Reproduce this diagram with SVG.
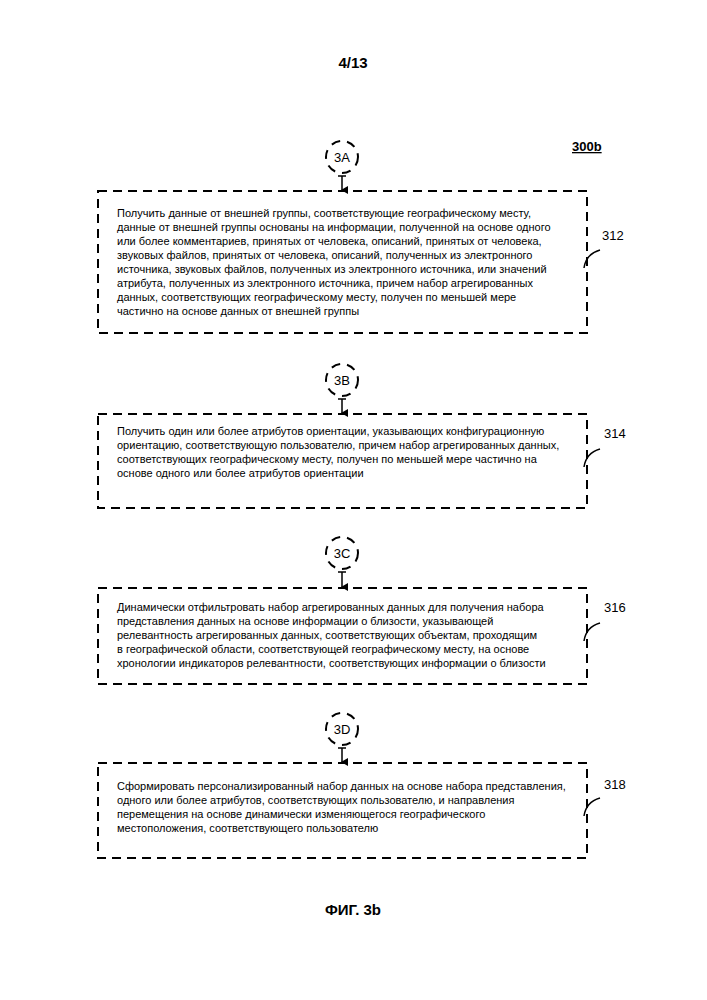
<svg xmlns="http://www.w3.org/2000/svg" width="707" height="1000" viewBox="0 0 707 1000">
<style>
text{font-family:"Liberation Sans",Arial,sans-serif;fill:#000}
.b{fill:none;stroke:#000;stroke-width:2;stroke-dasharray:9,6}
.c{fill:none;stroke:#000;stroke-width:2;stroke-dasharray:9,7}
.t{font-size:11px}
.n{font-size:13px}
.l{fill:none;stroke:#000;stroke-width:1.5}
</style>
<defs><marker id="a" markerWidth="8" markerHeight="8" refX="4" refY="7" orient="auto" markerUnits="userSpaceOnUse"><path d="M0,1 L8,1 L4,8Z"/></marker></defs>
<rect width="707" height="1000" fill="#fff"/>
<text x="353" y="68" text-anchor="middle" font-size="15" font-weight="bold">4/13</text>
<text x="572" y="151" font-size="13" font-weight="bold" text-decoration="underline">300b</text>
<g id="c3A"><circle class="c" cx="342" cy="157" r="16"/><text x="342" y="162" text-anchor="middle" class="n">3A</text></g>
<g id="c3B"><circle class="c" cx="342" cy="380" r="16"/><text x="342" y="385" text-anchor="middle" class="n">3B</text></g>
<g id="c3C"><circle class="c" cx="342" cy="553" r="16"/><text x="342" y="558" text-anchor="middle" class="n">3C</text></g>
<g id="c3D"><circle class="c" cx="342" cy="729" r="16"/><text x="342" y="734" text-anchor="middle" class="n">3D</text></g>
<g id="connectors">
<path class="l" d="M338,176H346M342,176V190" marker-end="url(#a)"/>
<path class="l" d="M338,399H346M342,399V413" marker-end="url(#a)"/>
<path class="l" d="M338,572H346M342,572V587" marker-end="url(#a)"/>
<path class="l" d="M338,748H346M342,748V762" marker-end="url(#a)"/>
<path class="l" d="M584,268Q586,254 600,250"/>
<path class="l" d="M584,467Q586,453 600,449"/>
<path class="l" d="M584,641Q586,627 600,623"/>
<path class="l" d="M584,816Q586,802 600,798"/>
</g>
<g id="n312"><rect class="b" x="98" y="191" width="489" height="142"/>
<text class="t" x="117" y="217">Получить данные от внешней группы, соответствующие географическому месту,</text>
<text class="t" x="117" y="231">данные от внешней группы основаны на информации, полученной на основе одного</text>
<text class="t" x="117" y="245">или более комментариев, принятых от человека, описаний, принятых от человека,</text>
<text class="t" x="117" y="259">звуковых файлов, принятых от человека, описаний, полученных из электронного</text>
<text class="t" x="117" y="273">источника, звуковых файлов, полученных из электронного источника, или значений</text>
<text class="t" x="117" y="287">атрибута, полученных из электронного источника, причем набор агрегированных</text>
<text class="t" x="117" y="301">данных, соответствующих географическому месту, получен по меньшей мере</text>
<text class="t" x="117" y="315">частично на основе данных от внешней группы</text>
<text class="n" x="602" y="240">312</text></g>
<g id="n314"><rect class="b" x="98" y="414" width="489" height="94"/>
<text class="t" x="117" y="435">Получить один или более атрибутов ориентации, указывающих конфигурационную</text>
<text class="t" x="117" y="449">ориентацию, соответствующую пользователю, причем набор агрегированных данных,</text>
<text class="t" x="117" y="463">соответствующих географическому месту, получен по меньшей мере частично на</text>
<text class="t" x="117" y="477">основе одного или более атрибутов ориентации</text>
<text class="n" x="604" y="438">314</text></g>
<g id="n316"><rect class="b" x="98" y="588" width="489" height="96"/>
<text class="t" x="117" y="611">Динамически отфильтровать набор агрегированных данных для получения набора</text>
<text class="t" x="117" y="625">представления данных на основе информации о близости, указывающей</text>
<text class="t" x="117" y="639">релевантность агрегированных данных, соответствующих объектам, проходящим</text>
<text class="t" x="117" y="653">в географической области, соответствующей географическому месту, на основе</text>
<text class="t" x="117" y="667">хронологии индикаторов релевантности, соответствующих информации о близости</text>
<text class="n" x="604" y="612">316</text></g>
<g id="n318"><rect class="b" x="98" y="763" width="489" height="95"/>
<text class="t" x="117" y="790">Сформировать персонализированный набор данных на основе набора представления,</text>
<text class="t" x="117" y="804">одного или более атрибутов, соответствующих пользователю, и направления</text>
<text class="t" x="117" y="818">перемещения на основе динамически изменяющегося географического</text>
<text class="t" x="117" y="832">местоположения, соответствующего пользователю</text>
<text class="n" x="604" y="789">318</text></g>
<text x="353" y="915" text-anchor="middle" font-size="15" font-weight="bold">ФИГ. 3b</text>
</svg>
